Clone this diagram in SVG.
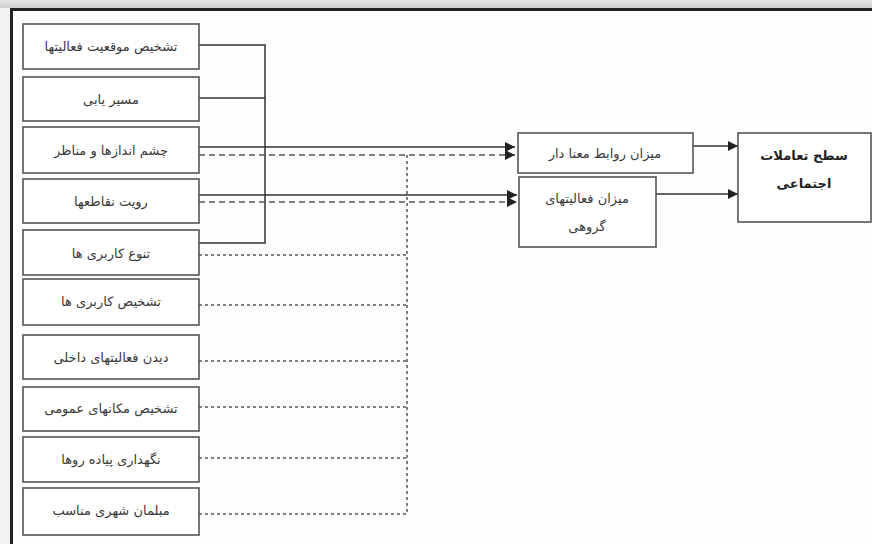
<svg xmlns="http://www.w3.org/2000/svg" width="872" height="544" viewBox="0 0 872 544">
<defs>
<linearGradient id="topg" x1="0" y1="0" x2="0" y2="1"><stop offset="0" stop-color="#e6e6e6"/><stop offset="1" stop-color="#cfcfcf"/></linearGradient>
<marker id="arr" viewBox="0 0 10 10" refX="10" refY="5" markerWidth="10" markerHeight="10" markerUnits="userSpaceOnUse" orient="auto"><path d="M0,0 L10,5 L0,10 z" fill="#222"/></marker>
</defs>
<style>
.box{fill:#fff;stroke:#555;stroke-width:1.6}
.t{font-family:"DejaVu Sans","Liberation Sans",sans-serif;font-size:13px;fill:#3a3a3a;text-anchor:middle;direction:rtl}
.tb{font-family:"DejaVu Sans","Liberation Sans",sans-serif;font-size:13px;font-weight:bold;fill:#222;text-anchor:middle;direction:rtl}
.s{fill:none;stroke:#333;stroke-width:1.5}
.d1{fill:none;stroke:#555;stroke-width:1.5;stroke-dasharray:6 4}
.d2{fill:none;stroke:#555;stroke-width:1.5;stroke-dasharray:3 3}
</style>
<rect x="0" y="0" width="872" height="544" fill="#f2f2f2"/>
<rect x="0" y="0" width="872" height="8" fill="url(#topg)"/>
<rect x="11" y="9" width="861" height="535" fill="#fdfdfd"/>
<path d="M11.5,544 V9.5 H872" fill="none" stroke="#222" stroke-width="3"/>

<g id="connectors">
<path class="s" d="M199,45 H265 V243 H199 M199,98 H265"/>
<path class="s" d="M199,147 H515" marker-end="url(#arr)"/>
<path class="s" d="M199,195 H517" marker-end="url(#arr)"/>
<path class="d1" d="M199,155 H515" marker-end="url(#arr)"/>
<path class="d1" d="M199,202 H517" marker-end="url(#arr)"/>
<path class="d2" d="M199,255 H407 M407,155 V514 M199,305 H407 M199,361 H407 M199,407 H407 M199,458 H407 M199,514 H407"/>
<path class="s" d="M693,146 H738" marker-end="url(#arr)"/>
<path class="s" d="M656,194 H738" marker-end="url(#arr)"/>
</g>

<g id="n1"><rect class="box" x="23" y="24" width="176" height="45"/><text class="t" x="111" y="51">تشخیص موقعیت فعالیتها</text></g>
<g id="n2"><rect class="box" x="23" y="77" width="176" height="44"/><text class="t" x="111" y="104">مسیر یابی</text></g>
<g id="n3"><rect class="box" x="23" y="127" width="176" height="46"/><text class="t" x="111" y="155">چشم اندازها و مناظر</text></g>
<g id="n4"><rect class="box" x="23" y="179" width="176" height="44"/><text class="t" x="111" y="206">رویت نقاطعها</text></g>
<g id="n5"><rect class="box" x="23" y="230" width="176" height="45"/><text class="t" x="111" y="258">تنوع کاربری ها</text></g>
<g id="n6"><rect class="box" x="23" y="279" width="176" height="46"/><text class="t" x="111" y="306">تشخیص کاربری ها</text></g>
<g id="n7"><rect class="box" x="23" y="335" width="176" height="44"/><text class="t" x="111" y="362">دیدن فعالیتهای داخلی</text></g>
<g id="n8"><rect class="box" x="23" y="387" width="176" height="44"/><text class="t" x="111" y="413">تشخیص مکانهای عمومی</text></g>
<g id="n9"><rect class="box" x="23" y="437" width="176" height="45"/><text class="t" x="111" y="464">نگهداری پیاده روها</text></g>
<g id="n10"><rect class="box" x="23" y="488" width="176" height="47"/><text class="t" x="111" y="515">مبلمان شهری مناسب</text></g>

<g id="nA"><rect class="box" x="518" y="133" width="175" height="40"/><text class="t" x="605" y="158">میزان روابط معنا دار</text></g>
<g id="nB"><rect class="box" x="519" y="177" width="137" height="70"/><text class="t" x="587" y="203">میزان فعالیتهای</text><text class="t" x="587" y="231">گروهی</text></g>
<g id="nC"><rect class="box" x="738" y="133" width="133" height="89"/><text class="tb" x="804" y="160">سطح تعاملات</text><text class="tb" x="804" y="188">اجتماعی</text></g>
</svg>
